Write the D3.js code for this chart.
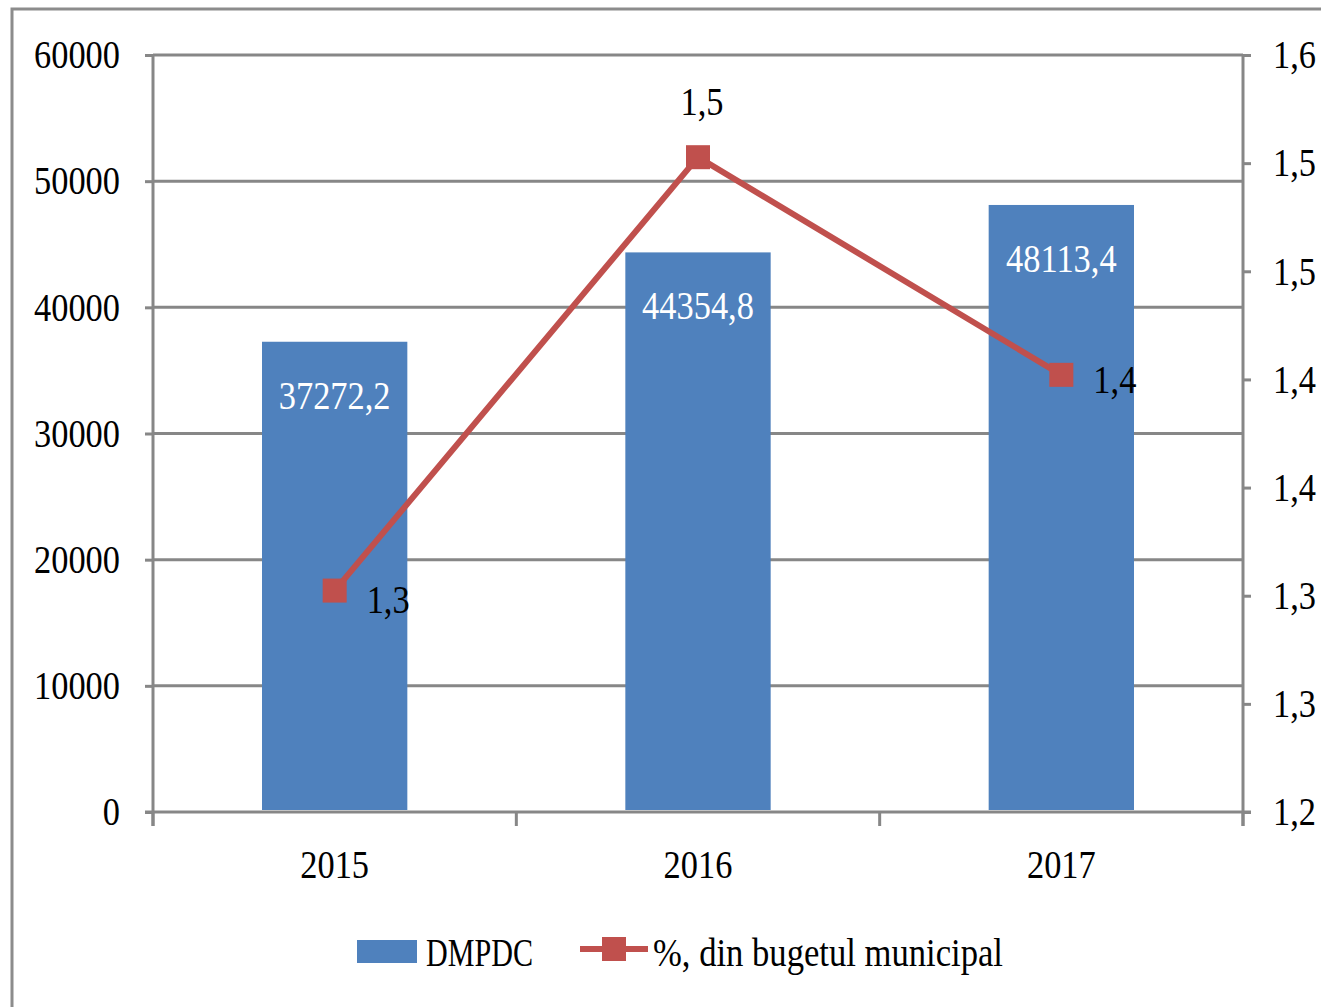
<!DOCTYPE html>
<html>
<head>
<meta charset="utf-8">
<script src="https://cdn.jsdelivr.net/npm/d3@7/dist/d3.min.js"></script>
<style>
  html, body { margin: 0; padding: 0; background: #fff; }
  svg text { font-family: "Liberation Serif", "Times New Roman", serif; }
</style>
</head>
<body>
<svg id="chart" width="1321" height="1007"></svg>
<script>
// ---- data ----
const years = ["2015", "2016", "2017"];
const dmpdc = [37272.2, 44354.8, 48113.4];
const pctBudget = [1.317, 1.546, 1.431];
const leftTicks = [0, 10000, 20000, 30000, 40000, 50000, 60000];
const rightDomain = [1.2, 1.6];
const rightTickLabels = ["1,2", "1,3", "1,3", "1,4", "1,4", "1,5", "1,5", "1,6"];
const seriesNames = ["DMPDC", "%, din bugetul municipal"];

// ---- style ----
const barColor = "#4F81BD";
const lineColor = "#C0504D";
const gridColor = "#878787";
const FS = 40;      // font size
const SX = 0.86;    // horizontal condense

const svg = d3.select("#chart");
svg.append("rect").attr("width", 1321).attr("height", 1007).attr("fill", "#fff");
// outer frame (cropped at right/bottom)
svg.append("rect").attr("x", 12).attr("y", 9).attr("width", 1400).attr("height", 1100)
  .attr("fill", "none").attr("stroke", "#8c8c8c").attr("stroke-width", 3);

const L = 153, R = 1243, T = 55, B = 812;
const x = d3.scaleBand().domain(years).range([L, R]).padding(0);
const y = d3.scaleLinear().domain([0, 60000]).range([B, T]);
const rightTicks = d3.range(rightTickLabels.length).map(i => rightDomain[0] + i * (rightDomain[1] - rightDomain[0]) / (rightTickLabels.length - 1));
const y2 = d3.scaleLinear().domain(rightDomain).range([B, T]);

function ctext(parent, tx, ty, str, anchor, color) {
  return parent.append("text")
    .attr("transform", `translate(${tx},${ty}) scale(${SX},1)`)
    .attr("text-anchor", anchor).attr("font-size", FS).attr("fill", color || "#000")
    .text(str);
}

// gridlines
svg.append("g").selectAll("line").data(leftTicks.filter(d => d > 0)).join("line")
  .attr("x1", L).attr("x2", R).attr("y1", d => y(d)).attr("y2", d => y(d))
  .attr("stroke", gridColor).attr("stroke-width", 3);

// bars
const bw = x.bandwidth();
svg.append("g").selectAll("rect").data(years).join("rect")
  .attr("x", d => x(d) + bw * 0.3)
  .attr("width", bw * 0.4)
  .attr("y", (d, i) => y(dmpdc[i]))
  .attr("height", (d, i) => y(0) - y(dmpdc[i]) - 2)
  .attr("fill", barColor);

// bar labels
const fmt = v => d3.format(".1f")(v).replace(".", ",");
years.forEach((yr, i) => {
  ctext(svg, x(yr) + bw / 2, y(dmpdc[i]) + 67, fmt(dmpdc[i]), "middle", "#fff");
});

// left axis
const axL = svg.append("g").attr("transform", `translate(${L},0)`)
  .call(d3.axisLeft(y).tickValues(leftTicks).tickSize(8).tickSizeOuter(0).tickFormat(d3.format("d")));
axL.select(".domain").attr("stroke", gridColor).attr("stroke-width", 3).attr("d", `M0,${T}V${B + 14}`);
axL.selectAll(".tick line").attr("stroke", gridColor).attr("stroke-width", 3);
axL.selectAll(".tick text").attr("font-size", FS).attr("font-family", "Liberation Serif").attr("fill", "#000")
  .attr("x", -33 / SX).attr("transform", `scale(${SX},1)`);

// right axis
const axR = svg.append("g").attr("transform", `translate(${R},0)`)
  .call(d3.axisRight(y2).tickValues(rightTicks).tickSize(8).tickSizeOuter(0).tickFormat((d, i) => rightTickLabels[i]));
axR.select(".domain").attr("stroke", gridColor).attr("stroke-width", 3).attr("d", `M0,${T}V${B + 14}`);
axR.selectAll(".tick line").attr("stroke", gridColor).attr("stroke-width", 3);
axR.selectAll(".tick text").attr("font-size", FS).attr("font-family", "Liberation Serif").attr("fill", "#000")
  .attr("x", 30 / SX).attr("transform", `scale(${SX},1)`);

// bottom axis
const axB = svg.append("g").attr("transform", `translate(0,${B})`)
  .call(d3.axisBottom(x).tickSize(0).tickSizeOuter(0));
axB.select(".domain").attr("stroke", gridColor).attr("stroke-width", 3).attr("d", `M${L - 8},0H${R + 8}`);
axB.selectAll(".tick text").attr("font-size", FS).attr("font-family", "Liberation Serif").attr("fill", "#000")
  .attr("y", 66).attr("dy", 0).attr("x", 0);
axB.selectAll(".tick").each(function (d) {
  const cx = x(d) + bw / 2;
  d3.select(this).attr("transform", null).select("text").attr("transform", `translate(${cx},0) scale(${SX},1)`);
});
const edges = years.map(d => x(d)).concat([x(years[years.length - 1]) + bw]);
axB.append("g").selectAll("line").data(edges).join("line")
  .attr("x1", d => d).attr("x2", d => d).attr("y1", 0).attr("y2", 14)
  .attr("stroke", gridColor).attr("stroke-width", 3);

// line series
const lineGen = d3.line().x((d, i) => x(years[i]) + bw / 2).y(d => y2(d));
svg.append("path").datum(pctBudget).attr("d", lineGen)
  .attr("fill", "none").attr("stroke", lineColor).attr("stroke-width", 6).attr("stroke-linejoin", "round");
svg.append("g").selectAll("rect").data(pctBudget).join("rect")
  .attr("x", (d, i) => x(years[i]) + bw / 2 - 12)
  .attr("y", d => y2(d) - 12)
  .attr("width", 24).attr("height", 24).attr("fill", lineColor);

// line labels
const lblOffsets = [[32, 22, "start"], [4, -42, "middle"], [32, 18, "start"]];
pctBudget.forEach((v, i) => {
  const o = lblOffsets[i];
  ctext(svg, x(years[i]) + bw / 2 + o[0], y2(v) + o[1], fmt(v), o[2]);
});

// legend
const lg = svg.append("g");
lg.append("rect").attr("x", 357).attr("y", 940).attr("width", 60).attr("height", 23).attr("fill", barColor);
ctext(lg, 426, 966, seriesNames[0], "start")
  .attr("textLength", 107 / SX).attr("lengthAdjust", "spacingAndGlyphs");
lg.append("line").attr("x1", 580).attr("x2", 648).attr("y1", 949).attr("y2", 949)
  .attr("stroke", lineColor).attr("stroke-width", 6);
lg.append("rect").attr("x", 602).attr("y", 937).attr("width", 24).attr("height", 24).attr("fill", lineColor);
ctext(lg, 653, 966, seriesNames[1], "start")
  .attr("textLength", 350 / SX).attr("lengthAdjust", "spacingAndGlyphs");
</script>
</body>
</html>
